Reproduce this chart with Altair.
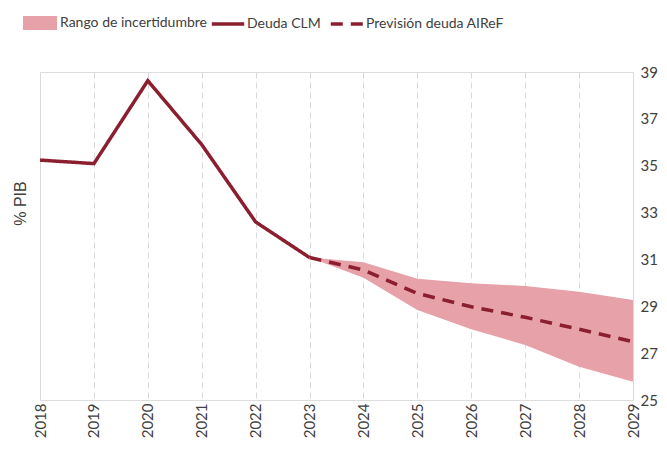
import altair as alt
import pandas as pd

years_hist = [2018, 2019, 2020, 2021, 2022, 2023]
deuda_clm = [35.24, 35.09, 38.63, 35.9, 32.6, 31.08]

years_fc = [2023, 2024, 2025, 2026, 2027, 2028, 2029]
prevision = [31.08, 30.55, 29.55, 28.98, 28.53, 28.02, 27.49]
banda_sup = [31.08, 30.88, 30.17, 29.98, 29.87, 29.62, 29.27]
banda_inf = [31.08, 30.22, 28.84, 28.02, 27.35, 26.42, 25.78]

year_ticks = list(range(2018, 2030))
y_ticks = [25, 27, 29, 31, 33, 35, 37, 39]

DARK = "#8B1E2F"
PINK = "#E6A1A9"
FONT = "Lato"

lines_df = pd.DataFrame(
    {"year": years_hist, "value": deuda_clm, "serie": "Deuda CLM"}
)
lines_df = pd.concat(
    [lines_df,
     pd.DataFrame({"year": years_fc, "value": prevision, "serie": "Previsión deuda AIReF"})],
    ignore_index=True,
)
band_df = pd.DataFrame(
    {"year": years_fc, "lo": banda_inf, "hi": banda_sup, "serie": "Rango de incertidumbre"}
)

x_enc = alt.X(
    "year:Q",
    scale=alt.Scale(domain=[2018, 2029], nice=False, zero=False),
    axis=alt.Axis(
        values=year_ticks, format="d", labelAngle=270, labelAlign="right",
        labelBaseline="middle", labelPadding=3, ticks=False, domain=False,
        grid=True, gridColor="#d9d9d9", gridDash=[6, 4], gridWidth=1,
        title=None, labelFont=FONT, labelFontSize=15, labelColor="#404040",
    ),
)
y_scale = alt.Scale(domain=[25, 39], nice=False, zero=False)
y_axis = alt.Axis(
    orient="right", values=y_ticks, ticks=False, domain=False, grid=False,
    labelPadding=7, labelFont=FONT, labelFontSize=15, labelColor="#404040",
    title="% PIB", titleX=-613, titleY=131, titleAngle=270, titleAlign="center",
    titleBaseline="middle", titleFont="Liberation Sans", titleFontSize=16,
    titleFontWeight="normal", titleColor="#404040",
)

rect_path = "M-1,-0.41L1,-0.41L1,0.41L-1,0.41Z"

band = alt.Chart(band_df).mark_area(opacity=1).encode(
    x=x_enc,
    y=alt.Y("lo:Q", scale=y_scale, axis=y_axis),
    y2="hi:Q",
    fill=alt.Fill(
        "serie:N",
        scale=alt.Scale(domain=["Rango de incertidumbre"], range=[PINK]),
        legend=alt.Legend(
            orient="none", legendX=-17, legendY=-66, title=None,
            symbolType=rect_path, symbolSize=1156, symbolStrokeWidth=0,
            labelFont=FONT, labelFontSize=14, labelColor="#404040", labelOffset=3,
            labelLimit=400,
        ),
    ),
)

leg2 = alt.Legend(
    orient="none", legendX=170, legendY=-66, title=None, direction="horizontal",
    symbolType="stroke", symbolSize=1050, symbolStrokeWidth=3.5,
    labelFont=FONT, labelFontSize=14, labelColor="#404040", labelOffset=1,
    columnPadding=2, labelLimit=400,
)
lines = alt.Chart(lines_df).mark_line(strokeWidth=3.5).encode(
    x=x_enc,
    y=alt.Y("value:Q", scale=y_scale, axis=y_axis),
    stroke=alt.Stroke(
        "serie:N",
        scale=alt.Scale(domain=["Deuda CLM", "Previsión deuda AIReF"], range=[DARK, DARK]),
        legend=leg2,
    ),
    strokeDash=alt.StrokeDash(
        "serie:N",
        scale=alt.Scale(domain=["Deuda CLM", "Previsión deuda AIReF"], range=[[1, 0], [12, 8]]),
        legend=leg2,
    ),
)

chart = alt.layer(band, lines).properties(
    width=593, height=328,
    padding={"left": 32, "top": 64, "right": 26, "bottom": 42},
    autosize=alt.AutoSizeParams(type="none"),
).configure_view(stroke="#a6a6a6", strokeWidth=1.2).configure(background="white")

chart.save("out.html", embed_options={"renderer": "svg", "actions": False})
